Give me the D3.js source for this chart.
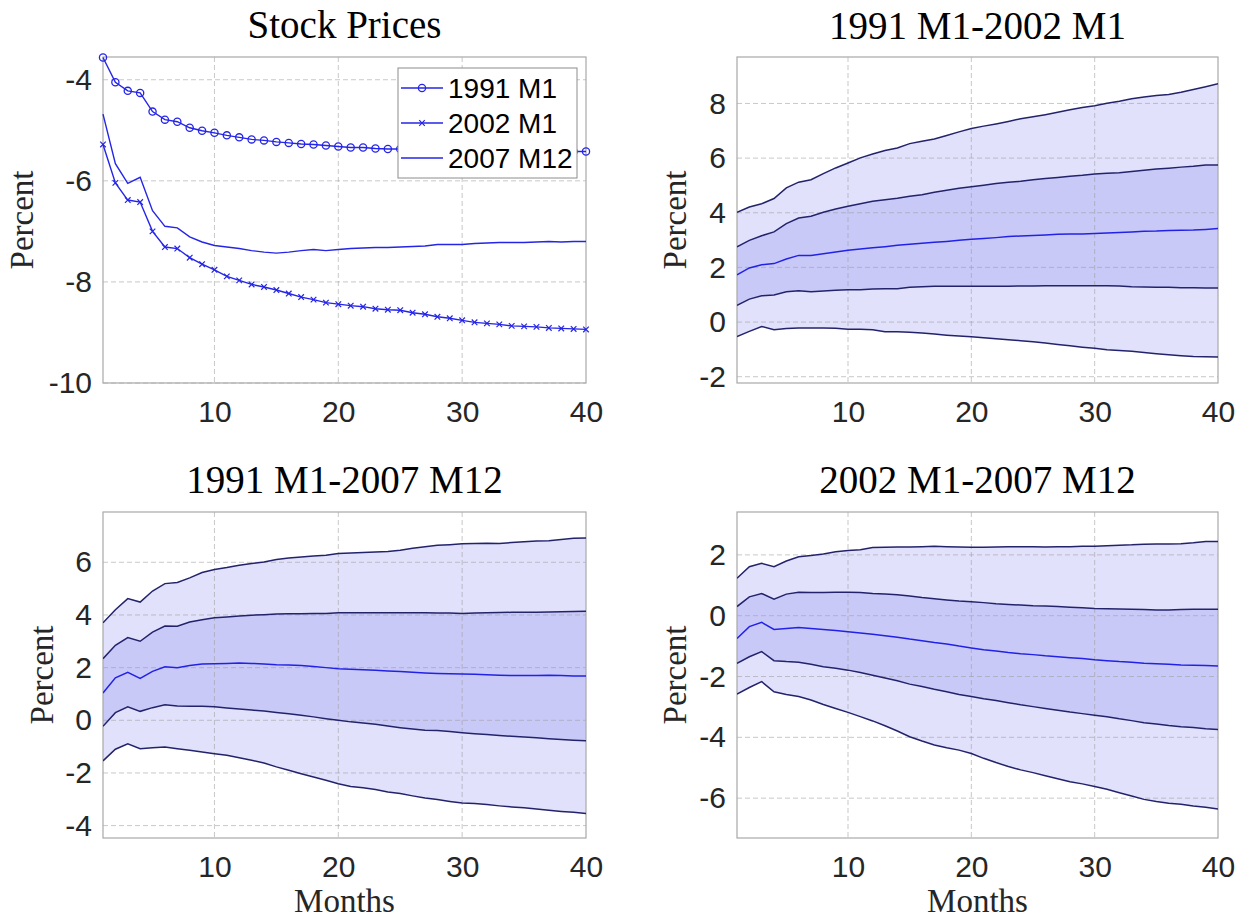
<!DOCTYPE html>
<html>
<head>
<meta charset="utf-8">
<script src="https://cdn.jsdelivr.net/npm/d3@7"></script>
<style>
html,body{margin:0;padding:0;background:#fff;}
svg{display:block;}
</style>
</head>
<body>
<svg id="chart" width="1248" height="920"></svg>
<script>
// ---------------- DATA ----------------
const months = d3.range(1, 41);
const xTicks = [10, 20, 30, 40];

// Panel 1: Stock Prices
const s1991 = [-3.56,-4.05,-4.22,-4.26,-4.63,-4.79,-4.83,-4.95,-5.01,-5.05,-5.10,-5.14,-5.18,-5.20,-5.23,-5.25,-5.27,-5.28,-5.30,-5.32,-5.34,-5.34,-5.36,-5.37,-5.37,-5.38,-5.38,-5.39,-5.39,-5.40,-5.40,-5.40,-5.41,-5.41,-5.41,-5.41,-5.42,-5.42,-5.42,-5.42];
const s2002 = [-5.28,-6.04,-6.38,-6.42,-7.00,-7.31,-7.34,-7.52,-7.65,-7.76,-7.89,-7.97,-8.05,-8.10,-8.16,-8.23,-8.30,-8.35,-8.41,-8.44,-8.47,-8.49,-8.53,-8.55,-8.56,-8.61,-8.64,-8.69,-8.72,-8.76,-8.80,-8.82,-8.84,-8.87,-8.88,-8.89,-8.91,-8.92,-8.93,-8.94];
const s2007 = [-4.68,-5.66,-6.05,-5.93,-6.59,-6.90,-6.93,-7.11,-7.21,-7.28,-7.31,-7.34,-7.38,-7.41,-7.43,-7.41,-7.38,-7.36,-7.38,-7.36,-7.34,-7.33,-7.32,-7.32,-7.31,-7.30,-7.29,-7.26,-7.26,-7.26,-7.24,-7.23,-7.22,-7.22,-7.22,-7.21,-7.20,-7.21,-7.20,-7.20];
const legendLabels = ["1991 M1", "2002 M1", "2007 M12"];
const p1Ticks = [-10, -8, -6, -4];

// Panel 2: 1991 M1-2002 M1
const a_outerUp = [4.02,4.21,4.33,4.52,4.91,5.12,5.21,5.43,5.64,5.82,6.01,6.15,6.28,6.37,6.53,6.62,6.70,6.83,6.96,7.08,7.17,7.25,7.34,7.44,7.51,7.59,7.68,7.77,7.85,7.92,8.01,8.08,8.17,8.24,8.29,8.33,8.41,8.51,8.61,8.72];
const a_innerUp = [2.75,2.99,3.16,3.30,3.60,3.81,3.87,4.02,4.14,4.24,4.33,4.42,4.48,4.53,4.60,4.66,4.75,4.82,4.90,4.95,5.01,5.07,5.12,5.15,5.21,5.25,5.29,5.34,5.37,5.42,5.45,5.46,5.51,5.56,5.60,5.63,5.67,5.70,5.75,5.75];
const a_median  = [1.73,1.98,2.10,2.14,2.31,2.44,2.44,2.50,2.56,2.63,2.67,2.72,2.76,2.81,2.85,2.88,2.92,2.95,2.99,3.03,3.06,3.09,3.13,3.15,3.17,3.19,3.21,3.22,3.22,3.24,3.26,3.28,3.30,3.32,3.33,3.35,3.36,3.37,3.39,3.42];
const a_innerLo = [0.61,0.84,0.96,0.99,1.11,1.15,1.11,1.14,1.16,1.18,1.18,1.21,1.22,1.22,1.27,1.29,1.31,1.31,1.31,1.31,1.31,1.31,1.31,1.32,1.32,1.33,1.33,1.33,1.33,1.33,1.33,1.32,1.29,1.28,1.27,1.27,1.26,1.26,1.25,1.25];
const a_outerLo = [-0.53,-0.34,-0.16,-0.28,-0.24,-0.22,-0.22,-0.22,-0.23,-0.26,-0.26,-0.28,-0.35,-0.35,-0.37,-0.40,-0.44,-0.48,-0.51,-0.54,-0.57,-0.61,-0.65,-0.68,-0.72,-0.77,-0.82,-0.87,-0.92,-0.96,-1.01,-1.04,-1.07,-1.11,-1.16,-1.20,-1.23,-1.26,-1.27,-1.28];
const p2Ticks = [-2, 0, 2, 4, 6, 8];

// Panel 3: 1991 M1-2007 M12
const b_outerUp = [3.70,4.20,4.62,4.49,4.91,5.19,5.23,5.41,5.61,5.73,5.80,5.89,5.95,6.01,6.11,6.16,6.20,6.24,6.27,6.33,6.35,6.37,6.39,6.41,6.46,6.53,6.59,6.65,6.67,6.70,6.71,6.72,6.71,6.75,6.78,6.81,6.82,6.87,6.91,6.92];
const b_innerUp = [2.34,2.85,3.14,3.00,3.35,3.58,3.57,3.73,3.82,3.89,3.92,3.96,3.99,4.01,4.04,4.05,4.05,4.06,4.06,4.08,4.08,4.08,4.08,4.08,4.08,4.08,4.08,4.07,4.07,4.06,4.07,4.08,4.09,4.10,4.10,4.10,4.11,4.12,4.13,4.14];
const b_median  = [1.04,1.61,1.82,1.59,1.86,2.03,2.00,2.08,2.14,2.15,2.16,2.18,2.16,2.14,2.11,2.10,2.08,2.04,2.00,1.96,1.94,1.92,1.90,1.87,1.85,1.82,1.80,1.78,1.77,1.76,1.75,1.73,1.71,1.70,1.70,1.70,1.71,1.70,1.68,1.68];
const b_innerLo = [-0.23,0.29,0.51,0.34,0.48,0.59,0.54,0.53,0.53,0.51,0.47,0.43,0.39,0.35,0.30,0.25,0.19,0.13,0.06,0.00,-0.06,-0.10,-0.15,-0.22,-0.28,-0.33,-0.38,-0.39,-0.43,-0.47,-0.51,-0.54,-0.58,-0.61,-0.63,-0.66,-0.70,-0.73,-0.76,-0.78];
const b_outerLo = [-1.54,-1.10,-0.89,-1.08,-1.04,-1.01,-1.08,-1.14,-1.20,-1.27,-1.33,-1.42,-1.52,-1.62,-1.77,-1.90,-2.03,-2.15,-2.28,-2.41,-2.51,-2.56,-2.63,-2.72,-2.78,-2.87,-2.95,-3.01,-3.08,-3.14,-3.16,-3.20,-3.25,-3.29,-3.32,-3.37,-3.42,-3.46,-3.49,-3.54];
const p3Ticks = [-4, -2, 0, 2, 4, 6];

// Panel 4: 2002 M1-2007 M12
const c_outerUp = [1.23,1.61,1.72,1.61,1.80,1.94,1.98,2.03,2.10,2.14,2.17,2.24,2.25,2.26,2.26,2.27,2.28,2.27,2.26,2.25,2.25,2.26,2.27,2.27,2.27,2.26,2.27,2.27,2.28,2.28,2.30,2.32,2.33,2.35,2.36,2.36,2.37,2.40,2.44,2.44];
const c_innerUp = [0.30,0.62,0.73,0.54,0.71,0.77,0.76,0.76,0.77,0.77,0.76,0.73,0.71,0.69,0.65,0.60,0.56,0.52,0.48,0.46,0.43,0.39,0.37,0.35,0.33,0.32,0.30,0.28,0.26,0.24,0.23,0.22,0.21,0.20,0.19,0.19,0.20,0.21,0.21,0.21];
const c_median  = [-0.75,-0.36,-0.22,-0.45,-0.42,-0.39,-0.42,-0.45,-0.49,-0.53,-0.57,-0.61,-0.66,-0.71,-0.77,-0.82,-0.88,-0.93,-1.00,-1.06,-1.12,-1.16,-1.21,-1.25,-1.28,-1.32,-1.35,-1.38,-1.41,-1.45,-1.48,-1.51,-1.53,-1.56,-1.58,-1.60,-1.62,-1.63,-1.64,-1.65];
const c_innerLo = [-1.57,-1.35,-1.18,-1.48,-1.51,-1.53,-1.60,-1.68,-1.73,-1.79,-1.87,-1.96,-2.05,-2.14,-2.25,-2.33,-2.42,-2.50,-2.59,-2.66,-2.73,-2.79,-2.86,-2.93,-2.99,-3.05,-3.11,-3.17,-3.22,-3.27,-3.32,-3.39,-3.45,-3.52,-3.56,-3.61,-3.65,-3.68,-3.72,-3.74];
const c_outerLo = [-2.58,-2.36,-2.17,-2.50,-2.59,-2.66,-2.77,-2.92,-3.05,-3.18,-3.32,-3.46,-3.62,-3.79,-3.98,-4.12,-4.25,-4.34,-4.42,-4.53,-4.69,-4.83,-4.96,-5.07,-5.16,-5.26,-5.36,-5.46,-5.53,-5.62,-5.71,-5.82,-5.93,-6.04,-6.11,-6.17,-6.20,-6.26,-6.30,-6.36];
const p4Ticks = [-6, -4, -2, 0, 2];

const titles = ["Stock Prices", "1991 M1-2002 M1", "1991 M1-2007 M12", "2002 M1-2007 M12"];
const yLabel = "Percent";
const xLabel = "Months";

// ---------------- STYLE ----------------
const C = {
  line: "#2525e8",
  bound: "#23236c",
  median: "#2222e6",
  outerFill: "#e1e1fc",
  innerFill: "#c9c9f8",
  grid: "#9a9a9a",
  box: "#a8a8a8",
  tick: "#262626"
};
const tickFont = "Liberation Sans, Arial, sans-serif";
const serif = "Liberation Serif, Times New Roman, serif";
const fmt = d => String(d);

const svg = d3.select("#chart");

function makePanel(cfg) {
  const g = svg.append("g");
  const x = d3.scaleLinear().domain([1, 40]).range([cfg.left, cfg.right]);
  const y = d3.scaleLinear().domain(cfg.ydom).range([cfg.bottom, cfg.top]);
  const clipId = "clip" + cfg.id;
  svg.append("clipPath").attr("id", clipId).append("rect")
    .attr("x", cfg.left).attr("y", cfg.top)
    .attr("width", cfg.right - cfg.left).attr("height", cfg.bottom - cfg.top);

  const plot = g.append("g").attr("clip-path", `url(#${clipId})`);
  const gridG = g.append("g");

  gridG.selectAll("line.gy").data(cfg.yticks).enter().append("line")
    .attr("x1", cfg.left).attr("x2", cfg.right)
    .attr("y1", d => y(d)).attr("y2", d => y(d))
    .attr("stroke", C.grid).attr("stroke-opacity", 0.55)
    .attr("stroke-width", 1).attr("stroke-dasharray", "5,3");
  gridG.selectAll("line.gx").data(xTicks.filter(d => d < 40)).enter().append("line")
    .attr("y1", cfg.top).attr("y2", cfg.bottom)
    .attr("x1", d => x(d)).attr("x2", d => x(d))
    .attr("stroke", C.grid).attr("stroke-opacity", 0.55)
    .attr("stroke-width", 1).attr("stroke-dasharray", "5,3");

  const ya = d3.axisLeft(y).tickValues(cfg.yticks).tickSize(0).tickPadding(11).tickFormat(fmt);
  const yg = g.append("g").attr("transform", `translate(${cfg.left},0)`).call(ya);
  const xa = d3.axisBottom(x).tickValues(xTicks).tickSize(0).tickPadding(18).tickFormat(fmt);
  const xg = g.append("g").attr("transform", `translate(0,${cfg.bottom})`).call(xa);
  [yg, xg].forEach(a => {
    a.select(".domain").remove();
    a.selectAll("text").attr("font-family", tickFont).attr("font-size", 30).attr("fill", C.tick);
  });

  g.append("rect").attr("x", cfg.left).attr("y", cfg.top)
    .attr("width", cfg.right - cfg.left).attr("height", cfg.bottom - cfg.top)
    .attr("fill", "none").attr("stroke", C.box).attr("stroke-width", 1.2);

  g.append("text").attr("x", (cfg.left + cfg.right) / 2).attr("y", cfg.titleY)
    .attr("text-anchor", "middle").attr("font-family", serif).attr("font-size", 39)
    .attr("fill", "#000").text(cfg.title);
  g.append("text").attr("transform", `translate(${cfg.ylabX},${(cfg.top + cfg.bottom) / 2}) rotate(-90)`)
    .attr("text-anchor", "middle").attr("font-family", serif).attr("font-size", 33)
    .attr("fill", "#262626").text(yLabel);
  if (cfg.xlabel) {
    g.append("text").attr("x", (cfg.left + cfg.right) / 2).attr("y", 912)
      .attr("text-anchor", "middle").attr("font-family", serif).attr("font-size", 33)
      .attr("fill", "#262626").text(xLabel);
  }
  return {g, plot, gridG, x, y};
}

function bandPanel(cfg, ou, iu, md, il, ol) {
  const p = makePanel(cfg);
  const rows = months.map((m, i) => ({m, ou: ou[i], iu: iu[i], md: md[i], il: il[i], ol: ol[i]}));
  const area = (a, b) => d3.area().x(d => p.x(d.m)).y0(d => p.y(d[b])).y1(d => p.y(d[a]));
  p.plot.append("path").datum(rows).attr("d", area("ou", "ol")).attr("fill", C.outerFill);
  p.plot.append("path").datum(rows).attr("d", area("iu", "il")).attr("fill", C.innerFill);
  const line = k => d3.line().x(d => p.x(d.m)).y(d => p.y(d[k]));
  const lg = p.g.append("g").attr("clip-path", `url(#clip${cfg.id})`);
  ["ou", "iu", "il", "ol"].forEach(k => {
    lg.append("path").datum(rows).attr("d", line(k)).attr("fill", "none")
      .attr("stroke", C.bound).attr("stroke-width", 1.5);
  });
  lg.append("path").datum(rows).attr("d", line("md")).attr("fill", "none")
    .attr("stroke", C.median).attr("stroke-width", 1.5);
}

// ---------------- PANEL 1 ----------------
(function () {
  const cfg = {id: 1, left: 103, right: 586, top: 57, bottom: 383, ydom: [-10, -3.55], yticks: p1Ticks,
    title: titles[0], titleY: 38, ylabX: 33, xlabel: false};
  const p = makePanel(cfg);
  const series = [s1991, s2002, s2007];
  const lineGen = d3.line().x((d, i) => p.x(months[i])).y(d => p.y(d));
  const lg = p.g.append("g");
  series.forEach(s => {
    lg.append("path").datum(s).attr("d", lineGen).attr("fill", "none")
      .attr("stroke", C.line).attr("stroke-width", 1.4);
  });
  lg.selectAll("circle.m").data(s1991).enter().append("circle")
    .attr("cx", (d, i) => p.x(months[i])).attr("cy", d => p.y(d)).attr("r", 3.6)
    .attr("fill", "none").attr("stroke", C.line).attr("stroke-width", 1.3);
  const cross = 2.8;
  lg.selectAll("path.x").data(s2002).enter().append("path")
    .attr("d", (d, i) => {
      const cx = p.x(months[i]), cy = p.y(d);
      return `M${cx - cross},${cy - cross}L${cx + cross},${cy + cross}M${cx - cross},${cy + cross}L${cx + cross},${cy - cross}`;
    })
    .attr("stroke", C.line).attr("stroke-width", 1.2);

  const L = {x: 398, y: 68, w: 179, h: 110};
  const leg = p.g.append("g");
  leg.append("rect").attr("x", L.x).attr("y", L.y).attr("width", L.w).attr("height", L.h)
    .attr("fill", "#fff").attr("stroke", "#8c8c8c").attr("stroke-width", 1);
  const rowsY = [88, 123, 158];
  legendLabels.forEach((lab, i) => {
    const ry = rowsY[i];
    leg.append("line").attr("x1", 401).attr("x2", 443).attr("y1", ry).attr("y2", ry)
      .attr("stroke", C.line).attr("stroke-width", 1.4);
    if (i === 0) {
      leg.append("circle").attr("cx", 422).attr("cy", ry).attr("r", 3.6)
        .attr("fill", "none").attr("stroke", C.line).attr("stroke-width", 1.3);
    } else if (i === 1) {
      leg.append("path").attr("d", `M${422 - cross},${ry - cross}L${422 + cross},${ry + cross}M${422 - cross},${ry + cross}L${422 + cross},${ry - cross}`)
        .attr("stroke", C.line).attr("stroke-width", 1.2);
    }
    leg.append("text").attr("x", 448).attr("y", ry).attr("dy", "0.36em")
      .attr("font-family", tickFont).attr("font-size", 28).attr("fill", "#000").text(lab);
  });
})();

// ---------------- BAND PANELS ----------------
bandPanel({id: 2, left: 737, right: 1218, top: 57, bottom: 383, ydom: [-2.23, 9.70], yticks: p2Ticks,
  title: titles[1], titleY: 39, ylabX: 686, xlabel: false},
  a_outerUp, a_innerUp, a_median, a_innerLo, a_outerLo);
bandPanel({id: 3, left: 103, right: 586, top: 512, bottom: 838, ydom: [-4.47, 7.91], yticks: p3Ticks,
  title: titles[2], titleY: 493, ylabX: 53, xlabel: true},
  b_outerUp, b_innerUp, b_median, b_innerLo, b_outerLo);
bandPanel({id: 4, left: 737, right: 1218, top: 512, bottom: 838, ydom: [-7.31, 3.41], yticks: p4Ticks,
  title: titles[3], titleY: 493, ylabX: 686, xlabel: true},
  c_outerUp, c_innerUp, c_median, c_innerLo, c_outerLo);
</script>
</body>
</html>
